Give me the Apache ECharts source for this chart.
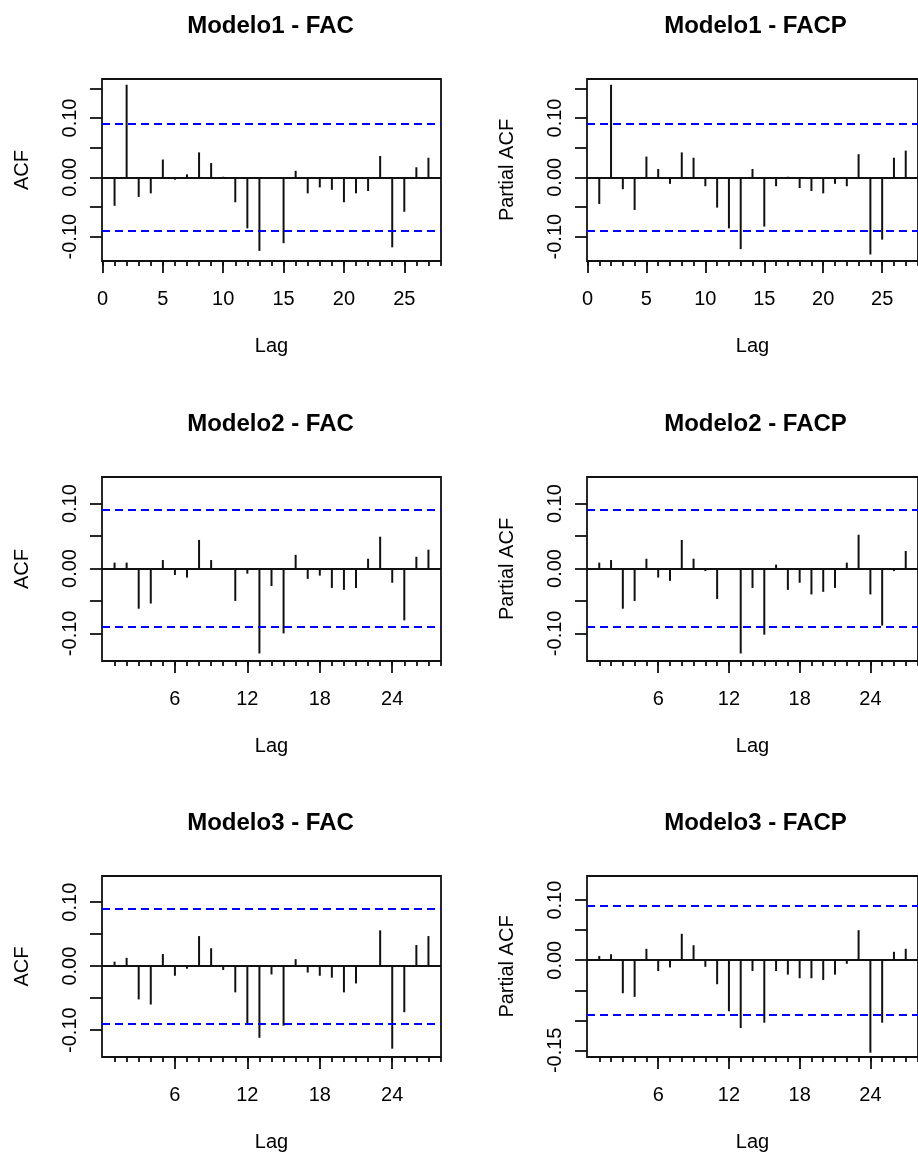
<!DOCTYPE html>
<html>
<head>
<meta charset="utf-8">
<script src="https://cdn.jsdelivr.net/npm/echarts@6/dist/echarts.min.js"></script>
<style>
  html, body { margin: 0; padding: 0; background: #fff; }
  #chart { width: 918px; height: 1153px; }
</style>
</head>
<body>
<div id="chart"></div>
<script>
// Lags shown on every correlogram
const lags = [1, 2, 3, 4, 5, 6, 7, 8, 9, 10, 11, 12, 13, 14, 15, 16, 17, 18, 19, 20, 21, 22, 23, 24, 25, 26, 27];

// Residual autocorrelations (FAC) and partial autocorrelations (FACP)
const modelo1FAC  = [-0.048, 0.156, -0.033, -0.027, 0.030, -0.004, 0.005, 0.042, 0.024, 0.001, -0.042, -0.086, -0.124, -0.001, -0.111, 0.011, -0.027, -0.017, -0.021, -0.042, -0.027, -0.023, 0.036, -0.118, -0.058, 0.017, 0.033];
const modelo1FACP = [-0.045, 0.156, -0.020, -0.055, 0.035, 0.014, -0.011, 0.042, 0.033, -0.015, -0.051, -0.086, -0.121, 0.014, -0.083, -0.015, 0.001, -0.018, -0.023, -0.027, -0.011, -0.015, 0.039, -0.130, -0.105, 0.033, 0.045];
const modelo2FAC  = [0.009, 0.009, -0.062, -0.054, 0.013, -0.010, -0.014, 0.044, 0.013, 0.000, -0.050, -0.008, -0.131, -0.027, -0.100, 0.021, -0.016, -0.011, -0.030, -0.033, -0.030, 0.015, 0.049, -0.022, -0.080, 0.018, 0.029];
const modelo2FACP = [0.009, 0.013, -0.062, -0.050, 0.015, -0.014, -0.019, 0.044, 0.015, -0.004, -0.047, 0.000, -0.131, -0.030, -0.102, 0.006, -0.033, -0.022, -0.040, -0.036, -0.030, 0.009, 0.052, -0.040, -0.088, -0.004, 0.027];
const modelo3FAC  = [0.007, 0.013, -0.052, -0.060, 0.019, -0.015, -0.004, 0.047, 0.028, -0.006, -0.041, -0.092, -0.112, -0.013, -0.093, 0.011, -0.010, -0.015, -0.018, -0.041, -0.027, 0.000, 0.056, -0.129, -0.072, 0.033, 0.047];
const modelo3FACP = [0.007, 0.010, -0.055, -0.061, 0.019, -0.018, -0.012, 0.044, 0.025, -0.011, -0.040, -0.085, -0.113, -0.018, -0.104, -0.018, -0.024, -0.030, -0.030, -0.033, -0.024, -0.006, 0.050, -0.154, -0.104, 0.014, 0.019];

// 95% bound used by the dashed lines
const ciBound = 0.085;

// Tick positions and labels
const lagTicksModelo1 = [0, 5, 10, 15, 20, 25];
const lagTicksSeasonal = [6, 12, 18, 24];
const lagMinorModelo1 = [0, 1, 2, 3, 4, 5, 6, 7, 8, 9, 10, 11, 12, 13, 14, 15, 16, 17, 18, 19, 20, 21, 22, 23, 24, 25, 26, 27, 28];
const lagMinorSeasonal = [1, 2, 3, 4, 5, 6, 7, 8, 9, 10, 11, 12, 13, 14, 15, 16, 17, 18, 19, 20, 21, 22, 23, 24, 25, 26, 27, 28];
const yTicksTall = [-0.10, -0.05, 0.00, 0.05, 0.10, 0.15];
const yTicks = [-0.10, -0.05, 0.00, 0.05, 0.10];
const yTicksDeep = [-0.15, -0.10, -0.05, 0.00, 0.05, 0.10];
const yLabels = [-0.10, 0.00, 0.10];
const yLabelsDeep = [-0.15, 0.00, 0.10];

const FONT = "'Liberation Sans', Arial, Helvetica, sans-serif";
const INK = '#111';

const panels = [
  { title: 'Modelo1 - FAC',  yName: 'ACF',         values: modelo1FAC,  col: 0, row: 0, xTicks: lagTicksModelo1,  xMinor: lagMinorModelo1,  yMin: -0.141, yMax: 0.1657, yTickVals: yTicksTall, yLabelVals: yLabels },
  { title: 'Modelo1 - FACP', yName: 'Partial ACF', values: modelo1FACP, col: 1, row: 0, xTicks: lagTicksModelo1,  xMinor: lagMinorModelo1,  yMin: -0.141, yMax: 0.1657, yTickVals: yTicksTall, yLabelVals: yLabels },
  { title: 'Modelo2 - FAC',  yName: 'ACF',         values: modelo2FAC,  col: 0, row: 1, xTicks: lagTicksSeasonal, xMinor: lagMinorSeasonal, yMin: -0.1426, yMax: 0.141, yTickVals: yTicks, yLabelVals: yLabels },
  { title: 'Modelo2 - FACP', yName: 'Partial ACF', values: modelo2FACP, col: 1, row: 1, xTicks: lagTicksSeasonal, xMinor: lagMinorSeasonal, yMin: -0.1426, yMax: 0.141, yTickVals: yTicks, yLabelVals: yLabels },
  { title: 'Modelo3 - FAC',  yName: 'ACF',         values: modelo3FAC,  col: 0, row: 2, xTicks: lagTicksSeasonal, xMinor: lagMinorSeasonal, yMin: -0.142, yMax: 0.1409, yTickVals: yTicks, yLabelVals: yLabels },
  { title: 'Modelo3 - FACP', yName: 'Partial ACF', values: modelo3FACP, col: 1, row: 2, xTicks: lagTicksSeasonal, xMinor: lagMinorSeasonal, yMin: -0.1611, yMax: 0.1402, yTickVals: yTicksDeep, yLabelVals: yLabelsDeep }
];

// Plot box geometry (px)
const colLeft = [102, 587];
const boxWidth = 339;
const rowTop = [79, 477, 876];
const rowHeight = [182, 184, 183];

const option = {
  animation: false,
  backgroundColor: '#ffffff',
  textStyle: { fontFamily: FONT },
  title: [],
  grid: [],
  xAxis: [],
  yAxis: [],
  series: []
};

panels.forEach((p, i) => {
  const left = colLeft[p.col];
  const top = rowTop[p.row];
  const height = rowHeight[p.row];

  option.title.push({
    text: p.title,
    left: left + boxWidth / 2 - 1,
    top: top - 65,
    padding: 0,
    textAlign: 'center',
    textStyle: { fontFamily: FONT, fontSize: 24, fontWeight: 'bold', color: '#000' }
  });

  option.grid.push({
    left: left, top: top, width: boxWidth, height: height,
    show: true, borderColor: INK, borderWidth: 1.8, backgroundColor: 'transparent',
    containLabel: false
  });

  // major ticks with labels
  option.xAxis.push({
    type: 'value', gridIndex: i, position: 'bottom',
    min: -0.04, max: 28.04,
    name: 'Lag', nameLocation: 'middle', nameGap: 75,
    nameTextStyle: { fontFamily: FONT, fontSize: 20, color: '#000' },
    axisLine: { show: false, onZero: false },
    axisTick: { show: true, customValues: p.xTicks, length: 12, lineStyle: { color: INK, width: 1.8 } },
    axisLabel: { show: true, customValues: p.xTicks, fontSize: 20, color: '#000', fontFamily: FONT, margin: 28 },
    splitLine: { show: false }
  });
  // minor ticks at every lag
  option.xAxis.push({
    type: 'value', gridIndex: i, position: 'bottom',
    min: -0.04, max: 28.04,
    axisLine: { show: false, onZero: false },
    axisTick: { show: true, customValues: p.xMinor, length: 5, lineStyle: { color: INK, width: 1.8 } },
    axisLabel: { show: false },
    splitLine: { show: false }
  });

  option.yAxis.push({
    type: 'value', gridIndex: i,
    min: p.yMin, max: p.yMax,
    name: p.yName, nameLocation: 'middle', nameGap: 70, nameRotate: 90,
    nameTextStyle: { fontFamily: FONT, fontSize: 20, color: '#000' },
    axisLine: { show: false, onZero: false },
    axisTick: { show: true, customValues: p.yTickVals, length: 12, lineStyle: { color: INK, width: 1.8 } },
    axisLabel: {
      show: true, customValues: p.yLabelVals, rotate: 90, margin: 22,
      fontSize: 20, color: '#000', fontFamily: FONT,
      formatter: v => Number(v).toFixed(2)
    },
    splitLine: { show: false }
  });

  option.series.push({
    type: 'bar',
    xAxisIndex: 2 * i,
    yAxisIndex: i,
    data: lags.map((lag, k) => [lag, p.values[k]]),
    barWidth: 2,
    itemStyle: { color: INK },
    silent: true,
    markLine: {
      silent: true,
      symbol: ['none', 'none'],
      label: { show: false },
      data: [
        { yAxis: 0, lineStyle: { color: INK, width: 1.8, type: 'solid' } },
        { yAxis: ciBound, lineStyle: { color: '#0000ff', width: 2, type: [8, 5] } },
        { yAxis: -ciBound, lineStyle: { color: '#0000ff', width: 2, type: [8, 5] } }
      ]
    }
  });
});

const chart = echarts.init(document.getElementById('chart'), null, { renderer: 'canvas' });
chart.setOption(option);
</script>
</body>
</html>
